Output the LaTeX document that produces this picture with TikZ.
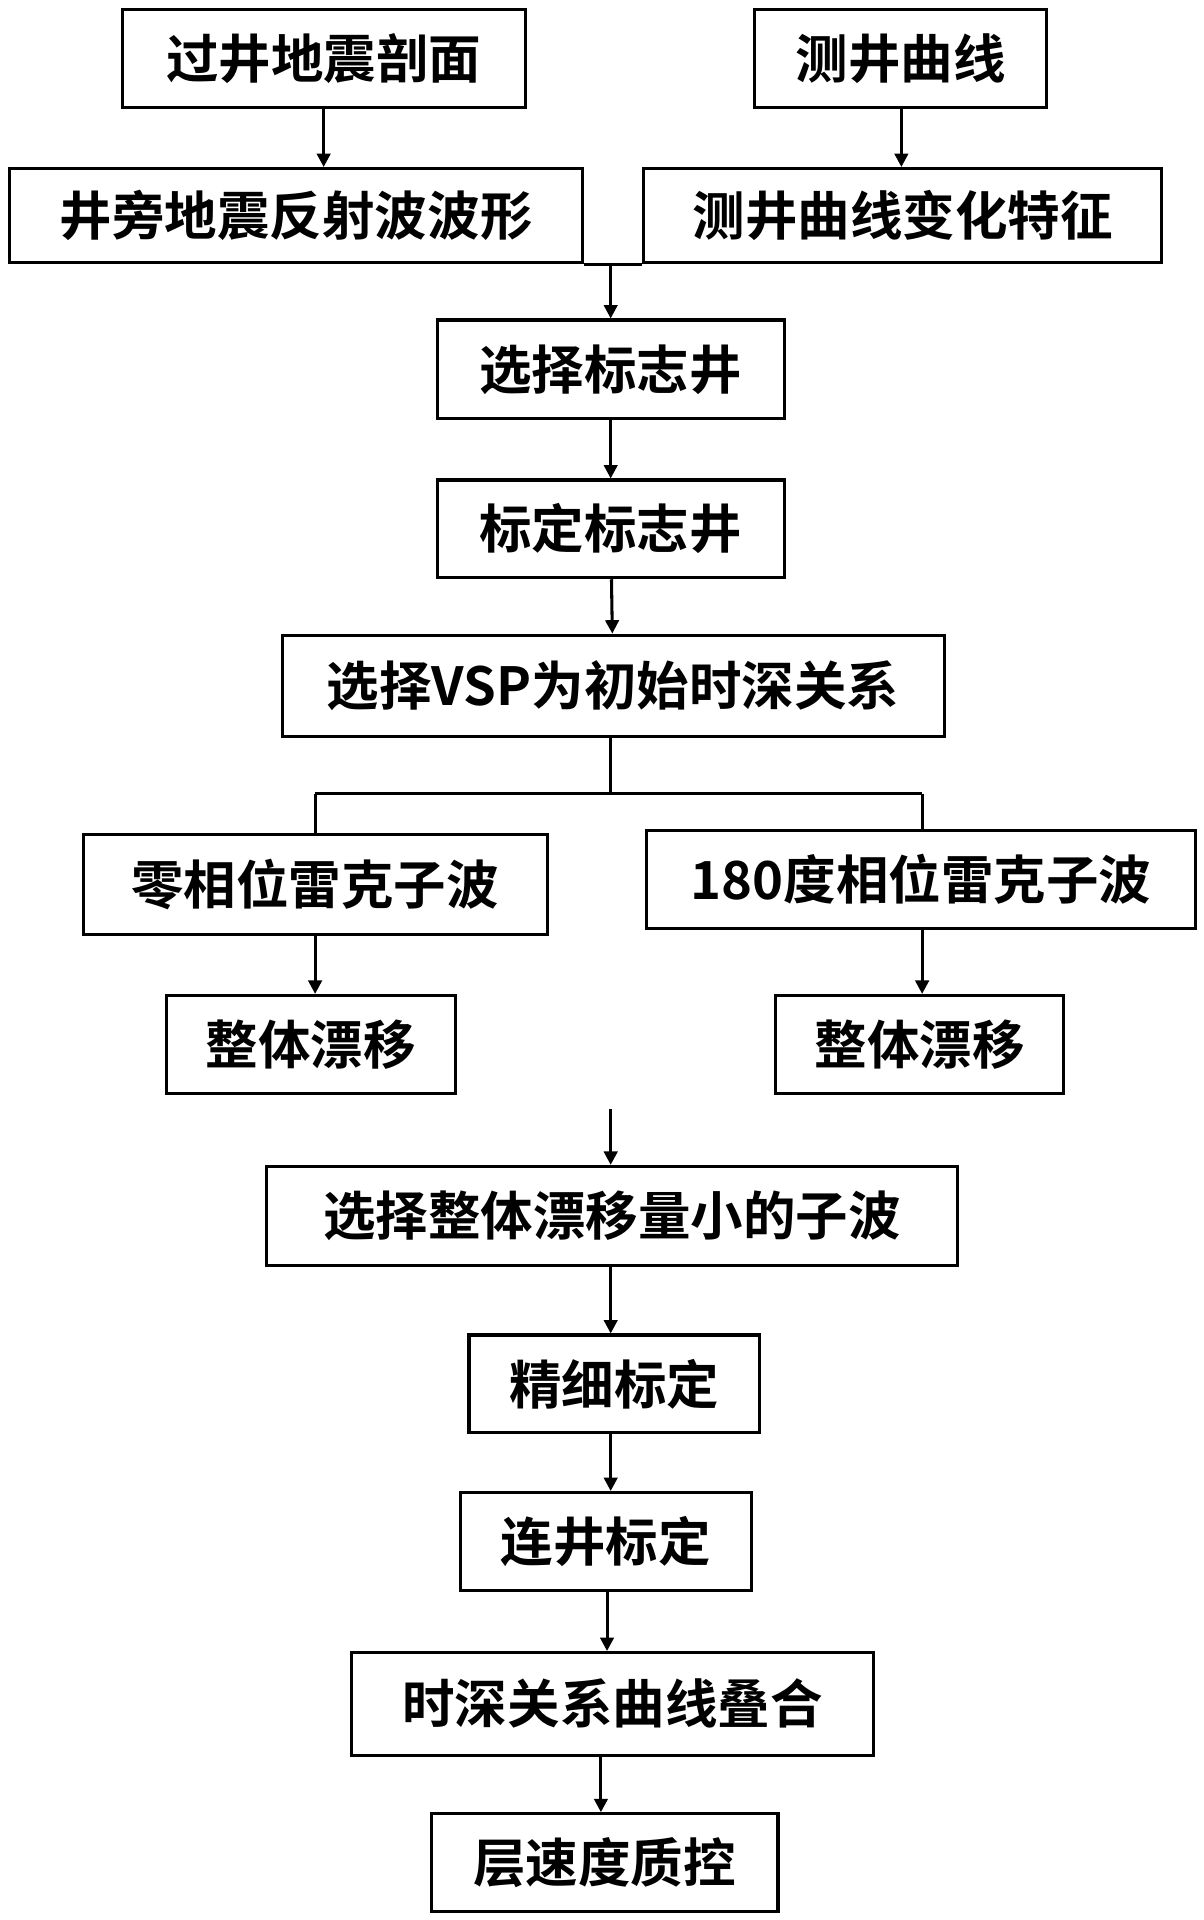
\documentclass[tikz,border=0pt]{standalone}
\usepackage{fontspec}
\setmainfont{Noto Sans CJK SC Bold}
\usetikzlibrary{arrows.meta}
\begin{document}
\begin{tikzpicture}[x=1pt,y=-1pt,
  bx/.style={draw,line width=2.5pt,inner sep=0pt},
  ar/.style={line width=2.5pt,-{Triangle[length=11pt,width=11pt]}},
  ln/.style={line width=2.5pt}]
\useasboundingbox (0,0) rectangle (985,1572);
\newcommand{\bxx}[6]{\node[bx,minimum width=#4-#2,minimum height=#5-#3,font=\fontsize{43}{46}\selectfont] (#1) at ({(#2+#4)/2},{(#3+#5)/2}) {#6};}
\bxx{a}{100}{8}{430}{88}{过井地震剖面}
\bxx{b}{618}{8}{857}{88}{测井曲线}
\bxx{c}{8}{138}{477}{215}{井旁地震反射波波形}
\bxx{d}{527}{138}{951}{215}{测井曲线变化特征}
\bxx{e}{358}{262}{642}{343}{选择标志井}
\bxx{f}{358}{393}{642}{473}{标定标志井}
\bxx{g}{231}{520}{773}{603}{选择VSP为初始时深关系}
\bxx{h}{68}{683}{448}{765}{零相位雷克子波}
\bxx{i}{529}{680}{979}{760}{180度相位雷克子波}
\bxx{j}{136}{815}{373}{895}{整体漂移}
\bxx{k}{635}{815}{871}{895}{整体漂移}
\bxx{l}{218}{955}{784}{1036}{选择整体漂移量小的子波}
\bxx{m}{384}{1093}{622}{1173}{精细标定}
\bxx{n}{377}{1222}{615}{1302}{连井标定}
\bxx{o}{288}{1353}{715}{1437}{时深关系曲线叠合}
\bxx{p}{353}{1485}{637}{1565}{层速度质控}
\draw[ar] (a.south-|265,0) -- (c.north-|265,0);
\draw[ar] (b.south-|738,0) -- (d.north-|738,0);
\draw[ln] (c.south east) -- (d.south west);
\coordinate (m1) at (500,215);
\draw[ar] (m1) -- (e.north-|m1);
\draw[ar] (e) -- (f);
\draw[ar] (f) -- (g);
\coordinate (s) at (500,650);
\draw[ln] (g.south-|s) -- (s);
\draw[ln] (258,650) -- (755,650);
\draw[ln] (258,650) -- (h.north-|258,0);
\draw[ln] (755,650) -- (i.north-|755,0);
\draw[ar] (h.south-|258,0) -- (j.north-|258,0);
\draw[ar] (i.south-|755,0) -- (k.north-|755,0);
\coordinate (t) at (500,908);
\draw[ar] (t) -- (l.north-|t);
\draw[ar] (l.south-|500,0) -- (m.north-|500,0);
\draw[ar] (m.south-|500,0) -- (n.north-|500,0);
\draw[ar] (n.south-|497,0) -- (o.north-|497,0);
\draw[ar] (o.south-|492,0) -- (p.north-|492,0);
\end{tikzpicture}
\end{document}
